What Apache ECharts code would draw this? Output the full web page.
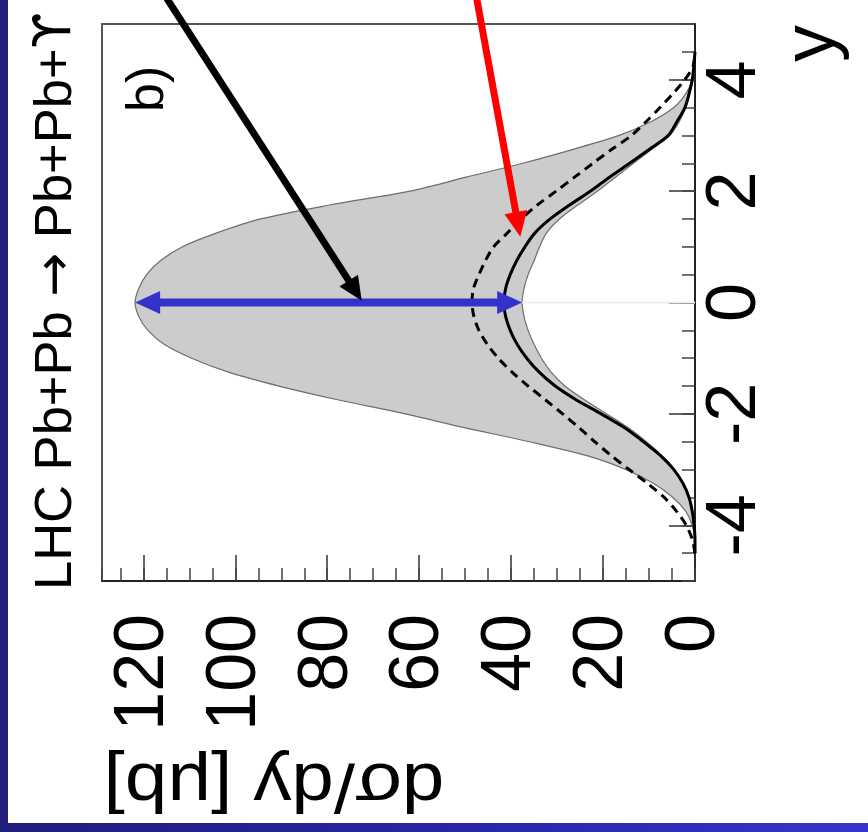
<!DOCTYPE html>
<html>
<head>
<meta charset="utf-8">
<script src="https://cdn.jsdelivr.net/npm/echarts@6/dist/echarts.min.js"></script>
<style>
html,body{margin:0;padding:0;}
body{width:868px;height:832px;position:relative;overflow:hidden;background:linear-gradient(90deg,#201d7c 0%,#2624a0 45%,#3535cc 100%);}
#paper{position:absolute;left:8px;top:0;width:860px;height:823px;background:#ffffff;}
#chart{position:absolute;left:0;top:0;width:868px;height:832px;}
</style>
</head>
<body>
<div id="paper"></div>
<div id="chart"></div>
<script>
// ---- data ----
const rapidity = [-4.5,-4.25,-4,-3.75,-3.5,-3.25,-3,-2.75,-2.5,-2.25,-2,-1.75,-1.5,-1.25,-1,-0.75,-0.5,-0.25,0,
                  0.25,0.5,0.75,1,1.25,1.5,1.75,2,2.25,2.5,2.75,3,3.25,3.5,3.75,4,4.25,4.5];
// upper edge of grey uncertainty band (dsigma/dy, microbarn)
const bandUpper = [0,0.1,0.6,2.0,4.8,9.0,15.0,23.5,36,50,63,77.5,90.5,101.5,109.5,115.5,119.0,121.0,121.8,
                   121.0,119.3,116.3,111.5,104,94.5,79.5,62,49.8,37.5,26.5,16.5,9.5,4.6,2.0,0.6,0.1,0];
// lower edge of grey band
const bandLower = [0,0,0.15,0.5,1.2,2.5,4.4,7.2,10.6,14.5,19.2,24.0,28.3,31.3,33.4,35.0,36.3,37.2,37.6,
                   37.2,36.3,35.0,33.8,32.3,29.5,25.5,21.2,17.3,13.4,9.4,5.5,3.4,2.0,1.1,0.5,0.2,0];
// solid curve
const solidCurve = [0,0,0.2,0.6,1.3,2.6,4.6,7.5,11.2,15.3,20.4,25.8,30.4,33.9,36.6,38.7,40.2,41.2,41.6,
                    41.2,40.2,38.8,37.0,34.8,31.5,27.3,22.7,18.6,14.2,9.9,5.8,3.9,2.2,1.3,0.6,0.25,0];
// dashed curve
const dashedCurve = [0,0.6,1.9,4.0,6.7,10.3,14.3,18.2,21.8,25.2,28.8,32.5,36.3,39.8,42.8,45.2,47.0,48.1,48.5,
                     48.2,47.0,45.6,43.8,40.8,37.8,34.3,30.2,26.2,22.2,18.1,13.8,10.6,7.6,4.8,2.2,0.4,0];
const sigmaTicks = [0,20,40,60,80,100,120];
const rapidityTicks = [-4,-2,0,2,4];
// annotation arrows: [dsigma, rapidity] start and tip
const blackArrow = [[116.0,5.6],[72.5,0.03]];
const redArrow = [[47.8,5.6],[38.0,1.18]];
const blueArrow = [[121.8,0],[37.6,0]];
const zeroGuide = [[37.6,0],[0,0]];

const FONT = '"Liberation Sans", Arial, Helvetica, sans-serif';
const chart = echarts.init(document.getElementById('chart'), null, {renderer:'canvas'});

function pairs(vals){ return rapidity.map((r,i)=>[vals[i], r]); }

const axisCommon = {
  type:'value', min:0, max:129, inverse:true, splitLine:{show:false}
};

const option = {
  animation:false,
  backgroundColor:'transparent',
  grid:{left:102, top:24, right:173, bottom:251, show:true, borderColor:'#555', borderWidth:2, backgroundColor:'transparent'},
  xAxis:[
    Object.assign({}, axisCommon, {
      position:'bottom',
      axisLine:{show:true, onZero:false, lineStyle:{color:'#222', width:2}},
      axisTick:{show:true, inside:true, length:26, customValues:sigmaTicks, lineStyle:{color:'#333', width:1.5}},
      axisLabel:{show:true, customValues:sigmaTicks, rotate:90, margin:33, fontSize:70, fontFamily:FONT, color:'#000'}
    }),
    Object.assign({}, axisCommon, {
      position:'bottom', interval:5,
      axisLine:{show:false, onZero:false},
      axisTick:{show:true, inside:true, length:13, lineStyle:{color:'#444', width:1.5}},
      axisLabel:{show:false}
    })
  ],
  yAxis:[
    {
      type:'value', min:-5, max:5, position:'right', splitLine:{show:false},
      axisLine:{show:true, onZero:false, lineStyle:{color:'#222', width:2}},
      axisTick:{show:true, inside:true, length:26, customValues:rapidityTicks, lineStyle:{color:'#333', width:1.5}},
      axisLabel:{show:true, customValues:rapidityTicks, rotate:90, margin:6, fontSize:70, fontFamily:FONT, color:'#000'}
    },
    {
      type:'value', min:-5, max:5, position:'right', interval:0.5, splitLine:{show:false},
      axisLine:{show:false, onZero:false},
      axisTick:{show:true, inside:true, length:13, lineStyle:{color:'#444', width:1.5}},
      axisLabel:{show:false}
    }
  ],
  series:[
    {
      type:'custom', name:'band', xAxisIndex:0, yAxisIndex:0, z:1,
      data:[[0,0]],
      renderItem:function(params, api){
        const pts = [];
        for(let i=0;i<rapidity.length;i++) pts.push(api.coord([bandUpper[i], rapidity[i]]));
        for(let i=rapidity.length-1;i>=0;i--) pts.push(api.coord([bandLower[i], rapidity[i]]));
        return {type:'polygon', shape:{points:pts, smooth:0.3},
                style:{fill:'#cccccc', stroke:'#6e6e6e', lineWidth:1.2}};
      }
    },
    {
      type:'line', name:'dashed', xAxisIndex:0, yAxisIndex:0, z:3,
      data:pairs(dashedCurve), smooth:0.3, showSymbol:false, symbol:'none',
      lineStyle:{color:'#000', width:3, type:[9,6]}
    },
    {
      type:'line', name:'solid', xAxisIndex:0, yAxisIndex:0, z:4,
      data:pairs(solidCurve), smooth:0.3, showSymbol:false, symbol:'none',
      lineStyle:{color:'#000', width:3}
    }
  ]
};
chart.setOption(option);

function px(p){ return chart.convertToPixel({xAxisIndex:0, yAxisIndex:0}, p); }
function arrowEls(a, color, width, headLen, headW, both){
  const s = px(a[0]), t = px(a[1]);
  const dx = t[0]-s[0], dy = t[1]-s[1], L = Math.hypot(dx,dy);
  const ux = dx/L, uy = dy/L, nx = -uy, ny = ux;
  const els = [];
  const head = (tip, dirx, diry) => ({
    type:'polygon', z:100,
    shape:{points:[[tip[0],tip[1]],
                   [tip[0]-dirx*headLen+nx*headW/2, tip[1]-diry*headLen+ny*headW/2],
                   [tip[0]-dirx*headLen-nx*headW/2, tip[1]-diry*headLen-ny*headW/2]]},
    style:{fill:color}
  });
  const sx = both ? s[0]+ux*headLen*0.8 : s[0], sy = both ? s[1]+uy*headLen*0.8 : s[1];
  els.push({type:'line', z:99, shape:{x1:sx, y1:sy, x2:t[0]-ux*headLen*0.8, y2:t[1]-uy*headLen*0.8},
            style:{stroke:color, lineWidth:width}});
  els.push(head(t, ux, uy));
  if(both) els.push(head(s, -ux, -uy));
  return els;
}

function txt(text, x, y, size, rot, align, valign, extra){
  return Object.assign({type:'text', x:x, y:y, rotation:rot, z:120,
          style:{text:text, fontSize:size, fontFamily:FONT, fill:'#000',
                 align:align, verticalAlign:valign, textAlign:align, textVerticalAlign:valign}}, extra||{});
}

const g0 = px(zeroGuide[0]), g1 = px(zeroGuide[1]);
const graphics = [].concat(
  [{type:'line', z:2, shape:{x1:g0[0], y1:g0[1], x2:g1[0], y2:g1[1]}, style:{stroke:'#eeeeee', lineWidth:2}}],
  arrowEls(blackArrow, '#000000', 7, 24, 22, false),
  arrowEls(redArrow, '#ff0000', 7, 25, 23, false),
  arrowEls(blueArrow, '#3333cc', 8, 25, 23, true),
  [
    {type:'text', x:57, y:590, rotation:Math.PI/2, z:120,
     style:{text:'{a|LHC Pb+Pb }{b|\u2192}{a| Pb+Pb+}{c|\u03D2}', fontSize:52.5, fontFamily:FONT, fill:'#000',
            align:'left', verticalAlign:'middle', textAlign:'left', textVerticalAlign:'middle',
            rich:{a:{fontSize:52.5, fontFamily:FONT, fill:'#000'},
                  b:{fontSize:52.5, fontFamily:'"DejaVu Sans", sans-serif', fill:'#000'},
                  c:{fontSize:51.5, fontFamily:'"DejaVu Sans", sans-serif', fill:'#000'}}}},
    txt('b)', 149, 112, 52, Math.PI/2, 'left', 'middle'),
    txt('y', 814, 62, 74, Math.PI/2, 'left', 'middle'),
    txt('d\u03C3/dy [\u03BCb]', 274, 783, 68, Math.PI, 'center', 'middle', {scaleX:1.12})
  ]
);
chart.setOption({graphic:graphics});
</script>
</body>
</html>
